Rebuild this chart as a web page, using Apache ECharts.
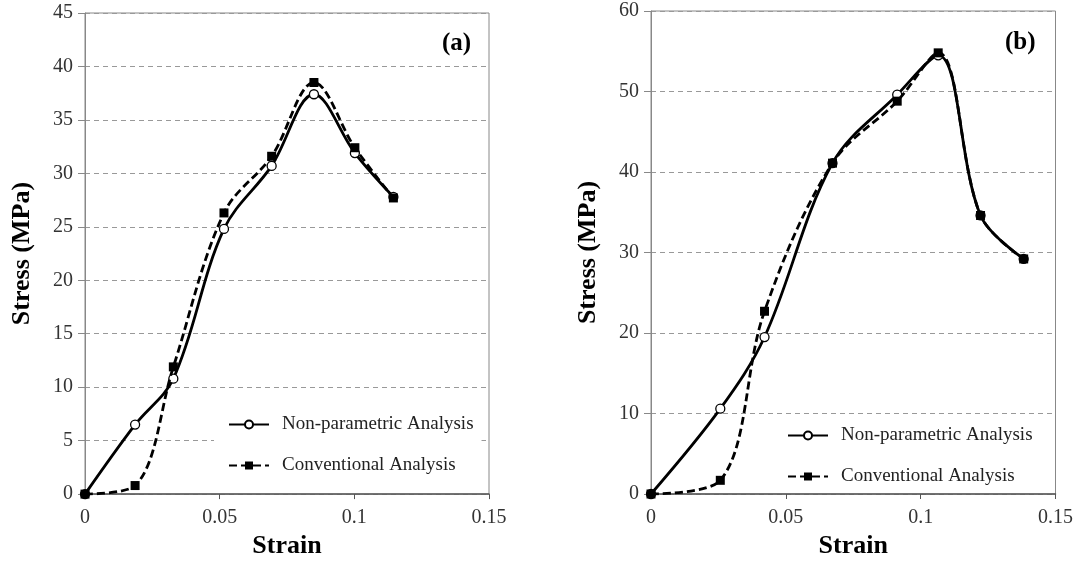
<!DOCTYPE html>
<html>
<head>
<meta charset="utf-8">
<script src="https://cdn.jsdelivr.net/npm/echarts@6/dist/echarts.min.js"></script>
<style>
  html, body { margin: 0; padding: 0; background: #fff; }
  #chart { width: 1076px; height: 564px; }
</style>
</head>
<body>
<div id="chart"></div>
<script>
// (a) 面板数据
const strainA = [0, 0.0186, 0.0328, 0.0516, 0.0693, 0.085, 0.1002, 0.1145];
const nonParamA = [0, 6.5, 10.8, 24.8, 30.7, 37.4, 31.9, 27.8];
const convA = [0, 0.8, 11.9, 26.3, 31.6, 38.5, 32.4, 27.7];

// (b) 面板数据
const strainB = [0, 0.0257, 0.0421, 0.0673, 0.0913, 0.1065, 0.1222, 0.1382];
const nonParamB = [0, 10.6, 19.5, 41.1, 49.6, 54.5, 34.6, 29.2];
const convB = [0, 1.7, 22.7, 41.1, 48.8, 54.8, 34.6, 29.2];

const seriesNames = ['Non-parametric Analysis', 'Conventional Analysis'];
const panelLabels = ['(a)', '(b)'];
const xTicks = { min: 0, max: 0.15, interval: 0.05 };
const yTicksA = { min: 0, max: 45, interval: 5 };
const yTicksB = { min: 0, max: 60, interval: 10 };

const serif = 'Liberation Serif';
const zip = (xs, ys) => xs.map((x, i) => [x, ys[i]]);

const chart = echarts.init(document.getElementById('chart'));

function xAxisCfg(gridIndex, gap) {
  return {
    type: 'value', gridIndex,
    min: xTicks.min, max: xTicks.max, interval: xTicks.interval,
    name: 'Strain', nameLocation: 'middle', nameGap: gap,
    nameTextStyle: { fontFamily: serif, fontWeight: 'bold', fontSize: 26, color: '#000' },
    axisLine: { show: true, lineStyle: { color: '#555', width: 1.5 } },
    axisTick: { show: true, inside: false, length: 5, lineStyle: { color: '#555' } },
    axisLabel: { fontFamily: serif, fontSize: 20, color: '#333', margin: 14 },
    splitLine: { show: false }
  };
}

function yAxisCfg(gridIndex, t) {
  return {
    type: 'value', gridIndex,
    min: t.min, max: t.max, interval: t.interval,
    name: 'Stress (MPa)', nameLocation: 'middle', nameGap: 50,
    nameTextStyle: { fontFamily: serif, fontWeight: 'bold', fontSize: 26, color: '#000' },
    axisLine: { show: true, lineStyle: { color: '#888', width: 1 } },
    axisTick: { show: true, inside: false, length: 7, lineStyle: { color: '#888' } },
    axisLabel: { fontFamily: serif, fontSize: 20, color: '#333', margin: 12 },
    splitLine: { show: true, lineStyle: { color: '#999', type: [5, 4], width: 1 } }
  };
}

function lineSeries(name, idx, data, dashed) {
  return {
    name, type: 'line', xAxisIndex: idx, yAxisIndex: idx,
    data, smooth: 0.35,
    symbol: dashed ? 'rect' : 'circle',
    symbolSize: 9,
    lineStyle: { color: '#000', width: 2.8, type: dashed ? [8, 4] : 'solid' },
    itemStyle: dashed
      ? { color: '#000', borderColor: '#000', borderWidth: 0 }
      : { color: '#fff', borderColor: '#000', borderWidth: 1.3 },
    emphasis: { disabled: true },
    z: dashed ? 3 : 2
  };
}

function legendCfg(left, top) {
  return {
    orient: 'vertical', left, top,
    data: seriesNames,
    backgroundColor: '#fff',
    padding: [10, 8, 3, 14],
    itemWidth: 40, itemHeight: 10, itemGap: 22,
    selectedMode: false,
    textStyle: { fontFamily: serif, fontSize: 19, color: '#222', lineHeight: 18, padding: [0, 0, 0, 8] }
  };
}

const option = {
  animation: false,
  backgroundColor: '#fff',
  title: [
    { text: panelLabels[0], left: 437, top: 26, textStyle: { fontFamily: serif, fontWeight: 'bold', fontSize: 25, color: '#000' } },
    { text: panelLabels[1], left: 1000, top: 25, textStyle: { fontFamily: serif, fontWeight: 'bold', fontSize: 25, color: '#000' } }
  ],
  grid: [
    { left: 85, top: 13, width: 404, height: 485, show: true, borderColor: '#888', borderWidth: 1 },
    { left: 651, top: 11, width: 405, height: 483, show: true, borderColor: '#888', borderWidth: 1 }
  ],
  legend: [legendCfg(214, 405), legendCfg(773, 416)],
  xAxis: [xAxisCfg(0, 36), xAxisCfg(1, 39)],
  yAxis: [yAxisCfg(0, yTicksA), yAxisCfg(1, yTicksB)],
  series: [
    lineSeries(seriesNames[0], 0, zip(strainA, nonParamA), false),
    lineSeries(seriesNames[1], 0, zip(strainA, convA), true),
    lineSeries(seriesNames[0], 1, zip(strainB, nonParamB), false),
    lineSeries(seriesNames[1], 1, zip(strainB, convB), true)
  ]
};

chart.setOption(option);
</script>
</body>
</html>
